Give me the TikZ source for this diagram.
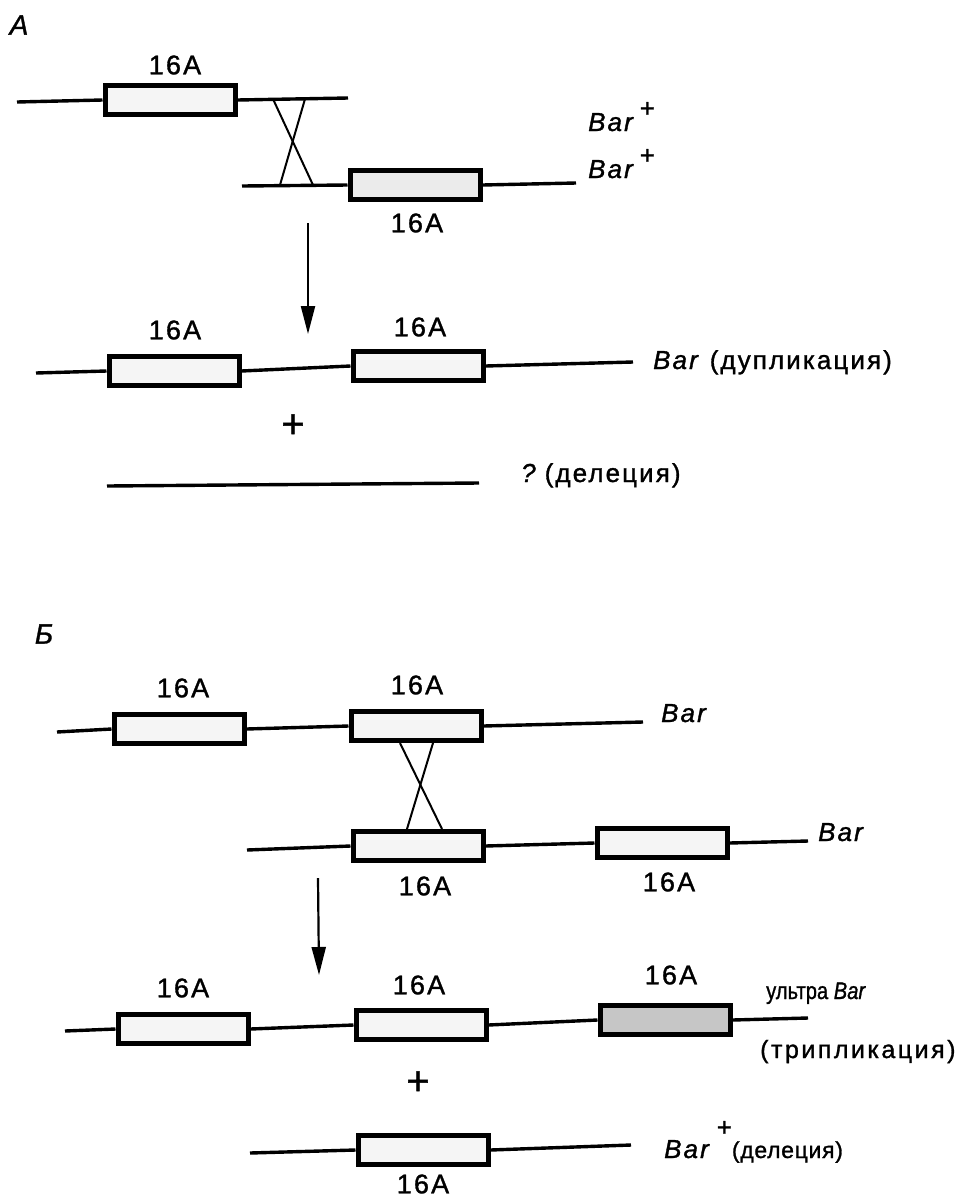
\documentclass[tikz,border=0pt]{standalone}
\usepackage{graphicx}
\usepackage{fontspec}
\setmainfont{Liberation Sans}[UprightFeatures={FakeBold=1.2},ItalicFeatures={FakeBold=1.2}]
\usetikzlibrary{arrows.meta}
\begin{document}
\begin{tikzpicture}[x=1pt,y=-1pt,
  chrom/.style={line width=3.4pt},
  gene/.style={draw, line width=5pt, fill=gray!8, minimum width=130pt, minimum height=29pt, inner sep=0pt},
  genemid/.style={gene, fill=gray!16},
  genedark/.style={gene, fill=gray!45},
  xline/.style={line width=2pt},
  arr/.style={line width=2.2pt, -{Triangle[length=28pt,width=14pt]}},
  tag/.style={font=\fontsize{27pt}{30pt}\selectfont\addfontfeatures{LetterSpace=8}, inner sep=0pt},
  lbl/.style={font=\fontsize{26pt}{30pt}\selectfont\addfontfeatures{LetterSpace=8}, inner sep=0pt},
  widelbl/.style={font=\fontsize{25pt}{30pt}\selectfont\addfontfeatures{LetterSpace=10}, inner sep=0pt},
  smalllbl/.style={font=\fontsize{24pt}{28pt}\selectfont, inner sep=0pt},
  partlbl/.style={font=\fontsize{28pt}{32pt}\selectfont\itshape, inner sep=0pt},
  plus/.style={font=\fontsize{40pt}{44pt}\selectfont, inner sep=0pt}]
\useasboundingbox (0,0) rectangle (976,1200);
\fill[white] (0,0) rectangle (976,1200);

% ---------------- Part A ----------------
\node[partlbl] (labA) at (19,25) {А};

\node[gene] (a1) at (170,100) {};
\node[genemid] (a2) at (415,185) {};
\node[gene] (a3) at (174,371) {};
\node[gene] (a4) at (418,366) {};

\coordinate (a1s) at (17,102);
\coordinate (a1e) at (348,98);
\coordinate (a2s) at (242,186);
\coordinate (a2e) at (576,183);
\coordinate (a3s) at (36,373);
\coordinate (a4e) at (633,362);
\coordinate (dels) at (107,486);
\coordinate (dele) at (479,483);

\draw[chrom] (a1s) -- (a1.west);
\draw[chrom] (a1.east) -- (a1e);
\draw[chrom] (a2s) -- (a2.west);
\draw[chrom] (a2.east) -- (a2e);
\draw[chrom] (a3s) -- (a3.west);
\draw[chrom] (a3.east) -- (a4.west);
\draw[chrom] (a4.east) -- (a4e);
\draw[chrom] (dels) -- (dele);

\coordinate (xa1) at (273,99);
\coordinate (xa2) at (313,185);
\coordinate (xa3) at (305,99);
\coordinate (xa4) at (280,185);
\draw[xline] (xa1) -- (xa2);
\draw[xline] (xa3) -- (xa4);

\coordinate (arA1) at (308,223);
\coordinate (arA2) at (308,334);
\draw[arr] (arA1) -- (arA2);

\node[tag] (ta1) at (175,65) {16A};
\node[tag] (ta2) at (417,223) {16A};
\node[tag] (ta3) at (175,330) {16A};
\node[tag] (ta4) at (420,327) {16A};

\node[lbl, anchor=base west] (barp1) at (588,131) {\textit{Bar}\hspace{4pt}\raisebox{14pt}{+}};
\node[lbl, anchor=base west] (barp2) at (588,178) {\textit{Bar}\hspace{4pt}\raisebox{14pt}{+}};
\node[lbl, anchor=base west] (dup) at (653,369) {\textit{Bar}\hspace{9pt}(дупликация)};
\node[plus] (plusA) at (293,426) {+};
\node[lbl, anchor=base west] (delA) at (521,482) {\textit{?}\hspace{7pt}(делеция)};

% ---------------- Part B ----------------
\node[partlbl] (labB) at (44,634) {Б};

\node[gene] (b1) at (179,729) {};
\node[gene] (b2) at (416,726) {};
\node[gene] (b3) at (418,846) {};
\node[gene] (b4) at (662,843) {};
\node[gene] (b5) at (183,1029) {};
\node[gene] (b6) at (421,1025) {};
\node[genedark] (b7) at (665,1020) {};
\node[gene] (b8) at (423,1150) {};

\coordinate (b1s) at (57,732);
\coordinate (b2e) at (643,722);
\coordinate (b3s) at (247,850);
\coordinate (b4e) at (808,841);
\coordinate (b5s) at (65,1031);
\coordinate (b7e) at (808,1018);
\coordinate (b8s) at (250,1153);
\coordinate (b8e) at (631,1145);

\draw[chrom] (b1s) -- (b1.west);
\draw[chrom] (b1.east) -- (b2.west);
\draw[chrom] (b2.east) -- (b2e);
\draw[chrom] (b3s) -- (b3.west);
\draw[chrom] (b3.east) -- (b4.west);
\draw[chrom] (b4.east) -- (b4e);
\draw[chrom] (b5s) -- (b5.west);
\draw[chrom] (b5.east) -- (b6.west);
\draw[chrom] (b6.east) -- (b7.west);
\draw[chrom] (b7.east) -- (b7e);
\draw[chrom] (b8s) -- (b8.west);
\draw[chrom] (b8.east) -- (b8e);

\coordinate (xb1) at (400,743);
\coordinate (xb2) at (442,829);
\coordinate (xb3) at (433,743);
\coordinate (xb4) at (407,829);
\draw[xline] (xb1) -- (xb2);
\draw[xline] (xb3) -- (xb4);

\coordinate (arB1) at (318,878);
\coordinate (arB2) at (319,975);
\draw[arr] (arB1) -- (arB2);

\node[tag] (tb1) at (183,688) {16A};
\node[tag] (tb2) at (417,685) {16A};
\node[tag] (tb3) at (425,886) {16A};
\node[tag] (tb4) at (669,882) {16A};
\node[tag] (tb5) at (183,988) {16A};
\node[tag] (tb6) at (419,985) {16A};
\node[tag] (tb7) at (671,975) {16A};
\node[tag] (tb8) at (423,1184) {16A};

\node[lbl, anchor=base west] (barB1) at (661,722) {\textit{Bar}};
\node[lbl, anchor=base west] (barB2) at (818,841) {\textit{Bar}};
\node[smalllbl, anchor=base west] (ultra) at (766,999) {\scalebox{0.84}[1]{ультра \textit{Bar}}};
\node[widelbl, anchor=base west] (trip) at (760,1058) {(трипликация)};
\node[plus] (plusB) at (418,1083) {+};
\node[lbl, anchor=base west] (delB) at (664,1158) {\textit{Bar}\hspace{5pt}\raisebox{22pt}{+}{\fontsize{23pt}{26pt}\selectfont\addfontfeatures{LetterSpace=3}(делеция)}};
\end{tikzpicture}
\end{document}
